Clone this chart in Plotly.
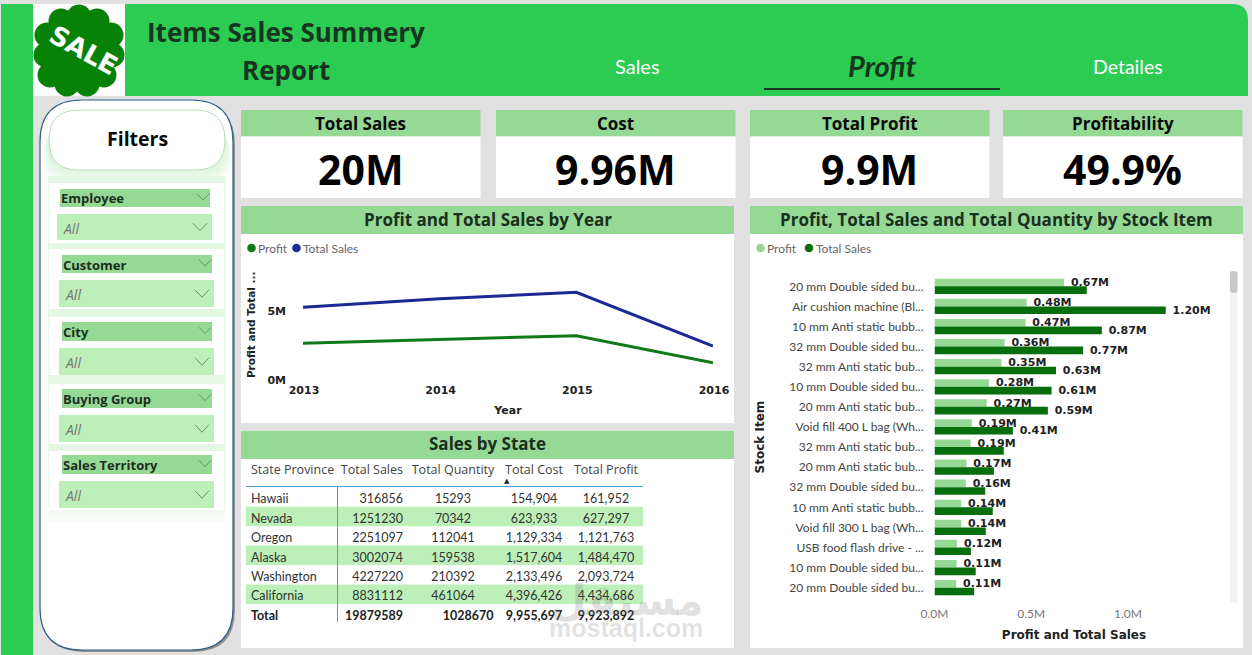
import plotly.graph_objects as go

W, H = 1252, 655

# ---------- data ----------
YEARS = [2013, 2014, 2015, 2016]
YEAR_PROFIT = [2660000, 2950000, 3210000, 1250000]
YEAR_SALES = [5270000, 5890000, 6350000, 2460000]

ITEMS = ["20 mm Double sided bu...", "Air cushion machine (Bl...", "10 mm Anti static bubb...",
         "32 mm Double sided bu...", "32 mm Anti static bub...", "10 mm Double sided bu...",
         "20 mm Anti static bub...", "Void fill 400 L bag (Wh...", "32 mm Anti static bub...",
         "20 mm Anti static bub...", "32 mm Double sided bu...", "10 mm Anti static bubb...",
         "Void fill 300 L bag (Wh...", "USB food flash drive - ...", "10 mm Double sided bu...",
         "20 mm Double sided bu..."]
ITEM_PROFIT = [670000, 476000, 470000, 362000, 346000, 282000, 270000, 193000,
               187000, 165000, 162000, 138000, 138000, 117000, 114000, 112000]
ITEM_SALES = [787000, 1195000, 865000, 768000, 628000, 605000, 586000, 405000,
              358000, 307000, 262000, 301000, 265000, 188000, 213000, 205000]
ITEM_PROFIT_LABELS = ["0.67M", "0.48M", "0.47M", "0.36M", "0.35M", "0.28M", "0.27M", "0.19M",
                      "0.19M", "0.17M", "0.16M", "0.14M", "0.14M", "0.12M", "0.11M", "0.11M"]
ITEM_SALES_LABELS = ["", "1.20M", "0.87M", "0.77M", "0.63M", "0.61M", "0.59M", "0.41M",
                     "", "", "", "", "", "", "", ""]

TABLE_HEADERS = ["State Province", "Total Sales", "Total Quantity", "Total Cost", "Total Profit"]
STATES = ["Hawaii", "Nevada", "Oregon", "Alaska", "Washington", "California"]
STATE_SALES = ["316856", "1251230", "2251097", "3002074", "4227220", "8831112"]
STATE_QTY = ["15293", "70342", "112041", "159538", "210392", "461064"]
STATE_COST = ["154,904", "623,933", "1,129,334", "1,517,604", "2,133,496", "4,396,426"]
STATE_PROFIT = ["161,952", "627,297", "1,121,763", "1,484,470", "2,093,724", "4,434,686"]
TOTAL_ROW = ["Total", "19879589", "1028670", "9,955,697", "9,923,892"]

KPI_TITLES = ["Total Sales", "Cost", "Total Profit", "Profitability"]
KPI_VALUES = ["20M", "9.96M", "9.9M", "49.9%"]
FILTERS = ["Employee", "Customer", "City", "Buying Group", "Sales Territory"]

# ---------- style ----------
GREEN = "#2BCC51"
HEAD = "#95D995"
SOFT = "#BDEFB8"
GRAY = "#E1E1E1"
INK = "#1B2F1F"
DARK = "#066E0D"
NAVY = "#1A2A94"
LINEGREEN = "#107A18"
HEADF = "Open Sans"
COMIC = "Lato"
shapes, notes = [], []


def px(x):
    return x / W


def py(y):
    return 1 - y / H


def rect(x0, y0, x1, y1, fill, line=None, lw=0):
    shapes.append(dict(type="rect", xref="paper", yref="paper", layer="below",
                       x0=px(x0), x1=px(x1), y0=py(y0), y1=py(y1), fillcolor=fill,
                       line=dict(color=line or fill, width=lw)))


def rrect(x0, y0, x1, y1, r, fill, line=None, lw=0, corners=(1, 1, 1, 1)):
    tl, tr, br, bl = [r * c for c in corners]
    P = lambda x, y: f"{px(x):.6f},{py(y):.6f}"
    d = (f"M{P(x0 + tl, y0)} L{P(x1 - tr, y0)} Q{P(x1, y0)} {P(x1, y0 + tr)} "
         f"L{P(x1, y1 - br)} Q{P(x1, y1)} {P(x1 - br, y1)} L{P(x0 + bl, y1)} "
         f"Q{P(x0, y1)} {P(x0, y1 - bl)} L{P(x0, y0 + tl)} Q{P(x0, y0)} {P(x0 + tl, y0)} Z")
    shapes.append(dict(type="path", xref="paper", yref="paper", layer="below", path=d,
                       fillcolor=fill, line=dict(color=line or "rgba(0,0,0,0)", width=lw)))


def circle(cx, cy, r, fill):
    shapes.append(dict(type="circle", xref="paper", yref="paper", layer="below",
                       x0=px(cx - r), x1=px(cx + r), y0=py(cy + r), y1=py(cy - r),
                       fillcolor=fill, line=dict(width=0)))


def chevron(cx, cy, w=7, h=5, color="#6F8F70"):
    d = f"M{px(cx - w):.6f},{py(cy - h / 1.6):.6f} L{px(cx):.6f},{py(cy + h / 1.6):.6f} L{px(cx + w):.6f},{py(cy - h / 1.6):.6f}"
    shapes.append(dict(type="path", xref="paper", yref="paper", layer="below", path=d,
                       line=dict(color=color, width=1)))


def text(x, y, s, size, color=INK, family=HEADF, bold=False, italic=False, anchor="center", angle=0):
    if bold:
        s = f"<b>{s}</b>"
    if italic:
        s = f"<i>{s}</i>"
    notes.append(dict(xref="paper", yref="paper", x=px(x), y=py(y), text=s, showarrow=False,
                      xanchor=anchor, yanchor="middle", textangle=angle,
                      font=dict(size=size, color=color, family=family)))


# ---------- page frame ----------
rect(1, 4, 33, 655, GREEN)
rrect(33, 4, 1248, 96, 16, GREEN, corners=(0, 1, 0, 0))
rect(33, 4, 125, 96, "#FFFFFF")

# logo
LOGO = "#078207"
circle(79, 50, 36, LOGO)
for cx, cy in [(79, 17), (97, 21), (111, 35), (112, 55), (104, 75), (87, 84),
               (67, 84), (50, 75), (46, 55), (47, 35), (61, 21)]:
    circle(cx, cy, 12.5, LOGO)
text(83, 50, "SALE", 26, "#FFFFFF", "DejaVu Sans", bold=True, angle=29)

text(286, 32, "Items Sales Summery", 26, "#17351F", HEADF, bold=True)
text(286, 70, "Report", 26, "#17351F", HEADF, bold=True)
text(637, 66, "Sales", 20, "#FFFFFF", COMIC)
text(882, 65, "Profit", 29, "#17351F", COMIC, bold=True, italic=True)
text(1128, 66, "Detailes", 19.5, "#FFFFFF", COMIC)
rect(764, 88, 1000, 90, "#17351F")

# filter panel
rrect(42, 103, 235, 652, 42, "rgba(80,80,80,0.55)")
rrect(40, 100, 233, 650, 42, "#FFFFFF", "#2F5E8A", 1.2)
for i in range(6):
    rrect(48 - i, 118 + i * 2, 226 + i, 171 + i * 3, 28, "rgba(170,225,170,0.07)")
rrect(49, 110, 225, 170, 30, "#FFFFFF", "#BCDDBE", 1)
rect(48, 176, 225, 522, "#E4F7E3")
for i in range(5):
    rect(48, 505 + i * 4, 225, 527 + i * 1, "rgba(255,255,255,0.25)")

FILTER_BOXES = [(183, 243, 60, 189, 207, 57, 214, 240), (249, 309, 62, 255, 273, 59, 280, 307),
                (317, 375, 62, 322, 341, 59, 348, 375), (384, 444, 62, 389, 408, 59, 415, 442),
                (451, 510, 62, 455, 474, 59, 481, 508)]
for name, (b0, b1, hx, h0, h1, vx, v0, v1) in zip(FILTERS, FILTER_BOXES):
    rect(49, b0, 224, b1, "#FFFFFF")
    rect(hx, h0, hx + 150, h1, HEAD)
    rect(vx, v0, vx + 155, v1, SOFT)
    chevron(hx + 143, (h0 + h1) / 2 - 1, 6, 5)
    chevron(vx + 143, (v0 + v1) / 2, 7, 6)
    text(hx - 1.5, (h0 + h1) / 2 + 0.5, name, 13, INK, HEADF, bold=True, anchor="left")
    text(vx + 4, (v0 + v1) / 2 + 1, "All", 14, "#777777", HEADF, italic=True, anchor="left")
text(137, 138, "Filters", 19.5, "#0A0A0A", HEADF, bold=True)

# KPI cards
for name, val, x0 in zip(KPI_TITLES, KPI_VALUES, [241, 496, 750, 1003]):
    x1 = x0 + 239.5
    rect(x0, 110, x1, 136.5, HEAD)
    rect(x0, 136.5, x1, 198, "#FFFFFF")
    text((x0 + x1) / 2, 123, name, 17, "#0A0A0A", HEADF, bold=True)
    text((x0 + x1) / 2, 169, val, 41, "#000000", HEADF, bold=True)

# chart panels
for x0, y0, y1, title in [(241, 206, 423, "Profit and Total Sales by Year"),
                          (241, 431, 648, "Sales by State"),
                          (750, 206, 648, "Profit, Total Sales and Total Quantity by Stock Item")]:
    x1 = x0 + 493
    rect(x0, y0, x1, y0 + 28, HEAD)
    rect(x0, y0 + 28, x1, y1, "#FFFFFF")
    text((x0 + x1) / 2, y0 + 13, title, 17, INK, HEADF, bold=True)

# legends
for cx, label, color, tx in [(251.5, "Profit", LINEGREEN, 256), (296.5, "Total Sales", NAVY, 301),
                             (760.5, "Profit", HEAD, 765), (809, "Total Sales", DARK, 813.5)]:
    circle(cx, 248, 4.3, color)
    text(tx, 248, label, 12, "#666666", COMIC, anchor="left")

# scrollbar
rrect(1230, 271, 1237.5, 603, 3, "#F2F2F2")
rrect(1230, 271, 1237.5, 293, 3, "#C8C8C8")

# table stripes and rules
for i in (1, 3, 5):
    rect(246, 506.7 + (i - 1) * 19.45, 643, 506.7 + i * 19.45, SOFT)
rect(246, 486, 643, 487, "#4A9FD0")
rect(337, 486, 338, 622, "#4A9FD0")
text(507, 480.5, "▲", 7, "#222222", "DejaVu Sans")

# watermark
text(627, 600, "مستقل", 42, "rgba(120,120,120,0.24)", "DejaVu Sans", bold=True)
text(626, 628, "mostaql.com", 25, "rgba(120,120,120,0.22)", "Liberation Sans", bold=True)

# ---------- traces ----------
fig = go.Figure()
fig.add_trace(go.Scatter(x=YEARS, y=YEAR_PROFIT, mode="lines", name="Profit", showlegend=False,
                         line=dict(color=LINEGREEN, width=3), xaxis="x", yaxis="y"))
fig.add_trace(go.Scatter(x=YEARS, y=YEAR_SALES, mode="lines", name="Total Sales", showlegend=False,
                         line=dict(color=NAVY, width=3), xaxis="x", yaxis="y"))

index = list(range(len(ITEMS)))
VALFONT = dict(size=11, color="#222222", family="DejaVu Sans", weight="bold")
fig.add_trace(go.Bar(y=index, x=ITEM_PROFIT, orientation="h", name="Profit", showlegend=False,
                     marker=dict(color=HEAD, line=dict(width=0)), text=ITEM_PROFIT_LABELS,
                     texttemplate="\u00a0%{text}", textposition="outside", cliponaxis=False,
                     constraintext="none", textfont=VALFONT, xaxis="x2", yaxis="y2"))
fig.add_trace(go.Bar(y=index, x=ITEM_SALES, orientation="h", name="Total Sales", showlegend=False,
                     marker=dict(color=DARK, line=dict(width=0)), text=ITEM_SALES_LABELS,
                     texttemplate="\u00a0%{text}", textposition="outside", cliponaxis=False,
                     constraintext="none", textfont=VALFONT, xaxis="x2", yaxis="y2"))

COL_ALIGN = ["left", "right", "center", "center", "center"]
COL_WIDTHS = [94, 74, 84, 78, 66]
fig.add_trace(go.Table(
    domain=dict(x=[px(243), px(639)], y=[py(640), py(457)]),
    columnwidth=COL_WIDTHS,
    header=dict(values=[h.replace(" ", "\u00a0") for h in TABLE_HEADERS], height=29,
                fill_color="rgba(0,0,0,0)", line_width=0, align=COL_ALIGN,
                font=dict(size=12.5, color="#444444", family=HEADF)),
    cells=dict(values=[STATES, STATE_SALES, STATE_QTY, STATE_COST, STATE_PROFIT],
               height=19.4, fill_color="rgba(0,0,0,0)", line_width=0, align=COL_ALIGN,
               font=dict(size=12.5, color="#333333", family=COMIC)),
))
# the bold total row, one line below the six state rows
total_cells = [[v] for v in TOTAL_ROW]
total_cells[2] = ["\u00a0" * 10 + TOTAL_ROW[2]]
fig.add_trace(go.Table(
    domain=dict(x=[px(243), px(639)], y=[py(640), py(602)]),
    columnwidth=COL_WIDTHS,
    header=dict(values=[""] * 5, height=1, fill_color="rgba(0,0,0,0)", line_width=0),
    cells=dict(values=total_cells, height=19.55, fill_color="rgba(0,0,0,0)", line_width=0,
               align=COL_ALIGN,
               font=dict(size=12.5, color="#222222", family=COMIC, weight="bold")),
))

AXIS_OFF = dict(showgrid=False, zeroline=False, showline=False, ticks="", automargin=False)
TITLEF = dict(size=11, color="#222222", family="DejaVu Sans", weight="bold")
fig.update_layout(
    width=W, height=H, autosize=False, margin=dict(l=0, r=0, t=0, b=0, pad=0, autoexpand=False),
    paper_bgcolor=GRAY, plot_bgcolor="rgba(0,0,0,0)", showlegend=False,
    barmode="group", bargap=0.24, bargroupgap=0, shapes=shapes, annotations=notes,
    xaxis=dict(AXIS_OFF, domain=[px(303), px(713)], range=[2013, 2016], anchor="y", tickvals=YEARS,
               ticklabelstandoff=2, ticklabelshift=1,
               tickfont=dict(size=11, color="#222222", family="DejaVu Sans", weight="bold"),
               title=dict(text="Year", font=TITLEF, standoff=10)),
    yaxis=dict(AXIS_OFF, domain=[py(380), py(269.6)], range=[0, 8000000], anchor="x",
               tickvals=[0, 5000000], ticktext=["0M", "5M"], ticklabelstandoff=16,
               tickfont=dict(size=11, color="#222222", family="DejaVu Sans", weight="bold"),
               title=dict(text="Profit and Total ...", font=dict(TITLEF, size=10.5), standoff=9)),
    xaxis2=dict(AXIS_OFF, domain=[px(934.5), px(1213.5)], range=[0, 1442000], anchor="y2",
                tickvals=[0, 500000, 1000000], ticktext=["0.0M", "0.5M", "1.0M"], ticklabelstandoff=7,
                tickfont=dict(size=12, color="#777777", family=COMIC),
                title=dict(text="Profit and Total Sales", font=dict(TITLEF, size=12), standoff=10)),
    yaxis2=dict(AXIS_OFF, domain=[py(597.7), py(276.3)], range=[15.5, -0.5], anchor="x2",
                tickvals=index, ticktext=ITEMS, ticklabelstandoff=10,
                tickfont=dict(size=12, color="#444444", family=COMIC),
                title=dict(text="Stock Item", font=dict(TITLEF, size=12), standoff=22)),
)

fig.write_html("out.html", config=dict(displayModeBar=False, responsive=False),
               post_script="document.body.style.margin='0';document.body.style.overflow='hidden';")
